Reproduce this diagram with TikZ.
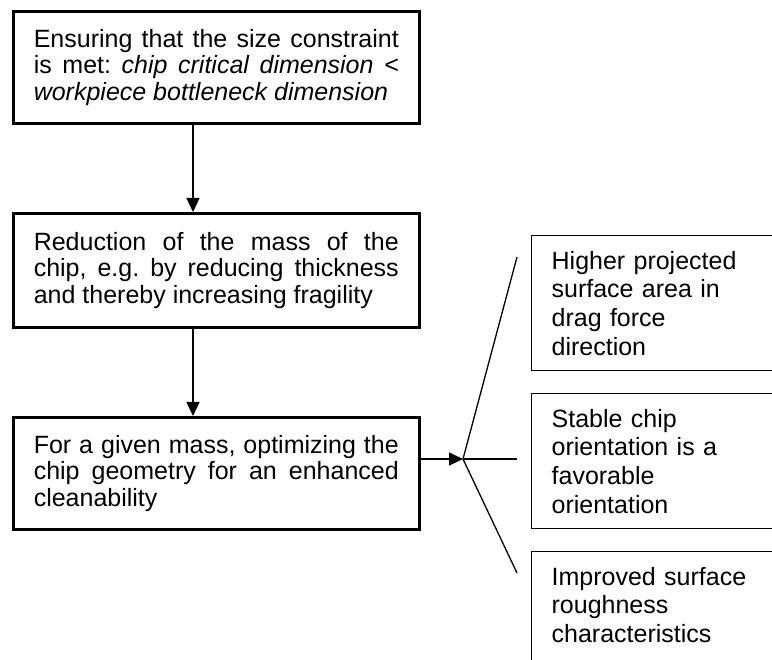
\documentclass[tikz,border=0pt]{standalone}
\usepackage{fontspec}
\setmainfont{Liberation Sans}
\usetikzlibrary{arrows.meta}
\newcommand{\myNoHyph}{\hyphenpenalty=10000\relax\exhyphenpenalty=10000\relax\frenchspacing\spaceskip=0.278em plus 0.6em minus 0pt\relax}
\begin{document}
\begin{tikzpicture}[x=1pt,y=-1pt,
  mainbox/.style={draw, line width=2.6pt, anchor=north west, text width=365pt,
    inner xsep=20.5pt, inner ysep=0pt, align=justify,
    font=\fontsize{25}{26.5}\selectfont\myNoHyph},
  sidebox/.style={draw, line width=1.3pt, anchor=north west, text width=205pt,
    inner xsep=20pt, inner ysep=0pt, minimum height=135pt, align=left,
    font=\fontsize{25}{28.7}\selectfont\myNoHyph},
  arr/.style={line width=1.4pt, -{Triangle[length=14pt,width=13pt]}},
  link/.style={line width=1.3pt}]
\useasboundingbox (0,0) rectangle (772,660);
\clip (0,0) rectangle (772,660);
\node[mainbox, minimum height=112pt] (b1) at (12,10)
  {Ensuring that the size constraint is met: \textit{chip critical dimension < workpiece bottleneck dimension}};
\node[mainbox, minimum height=114pt] (b2) at (12,212)
  {Reduction of the mass of the chip, e.g. by reducing thickness and thereby increasing fragility};
\node[mainbox, minimum height=112pt] (b3) at (12,416)
  {For a given mass, optimizing the chip geometry for an enhanced cleanability};
\node[sidebox] (sA) at (531,235) {Higher projected\\surface area in\\drag force\\direction};
\node[sidebox] (sB) at (531,393) {Stable chip\\orientation is a\\favorable\\orientation};
\node[sidebox] (sC) at (531,551) {Improved surface\\roughness\\characteristics\\\mbox{}};
\coordinate (ax) at (193,0);
\coordinate (J) at (463,459);
\coordinate (tA) at (517,257);
\coordinate (tB) at (517,459);
\coordinate (tC) at (517,573);
\draw[arr] (b1.south -| ax) -- (b2.north -| ax);
\draw[arr] (b2.south -| ax) -- (b3.north -| ax);
\draw[arr] (b3.east |- J) -- (J);
\draw[link] (J) -- (tA);
\draw[link] (J) -- (tB);
\draw[link] (J) -- (tC);
\end{tikzpicture}
\end{document}
